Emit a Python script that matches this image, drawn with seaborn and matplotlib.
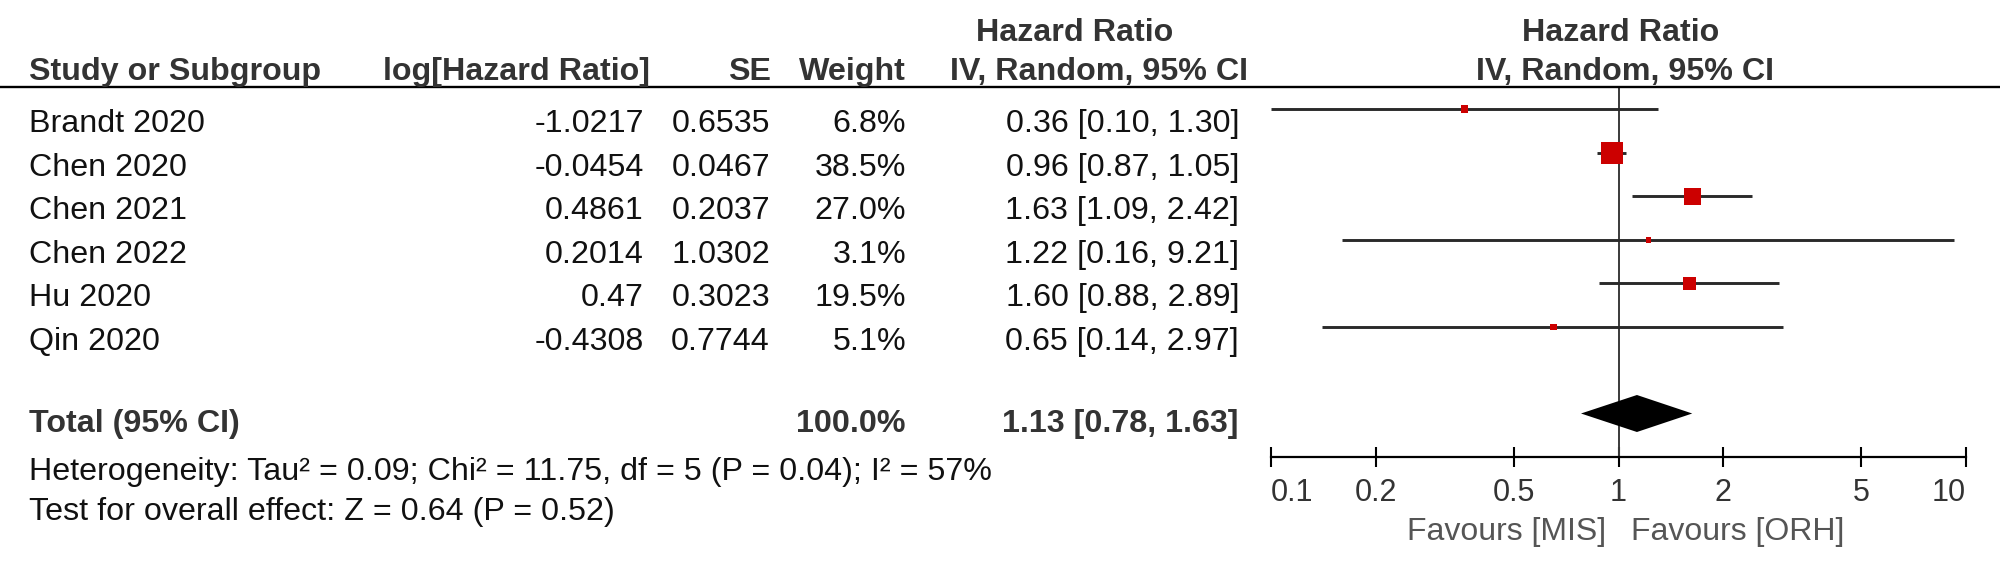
import matplotlib
matplotlib.use("Agg")
import matplotlib.pyplot as plt
from matplotlib.lines import Line2D
import seaborn as sns
import numpy as np
import pandas as pd

# ---------------- data ----------------
studies = ["Brandt 2020", "Chen 2020", "Chen 2021", "Chen 2022", "Hu 2020", "Qin 2020"]
log_hr = [-1.0217, -0.0454, 0.4861, 0.2014, 0.47, -0.4308]
se = [0.6535, 0.0467, 0.2037, 1.0302, 0.3023, 0.7744]
weights = [6.8, 38.5, 27.0, 3.1, 19.5, 5.1]
hr = [0.36, 0.96, 1.63, 1.22, 1.60, 0.65]
ci_low = [0.10, 0.87, 1.09, 0.16, 0.88, 0.14]
ci_high = [1.30, 1.05, 2.42, 9.21, 2.89, 2.97]
total_label = "Total (95% CI)"
total_weight = 100.0
total_hr = 1.13
total_low = 0.78
total_high = 1.63
axis_ticks = [0.1, 0.2, 0.5, 1, 2, 5, 10]
tick_labels = ["0.1", "0.2", "0.5", "1", "2", "5", "10"]
heterogeneity = "Heterogeneity: Tau\u00b2 = 0.09; Chi\u00b2 = 11.75, df = 5 (P = 0.04); I\u00b2 = 57%"
overall_effect = "Test for overall effect: Z = 0.64 (P = 0.52)"
favours_left = "Favours [MIS]"
favours_right = "Favours [ORH]"

df = pd.DataFrame({"study": studies, "log_hr": log_hr, "se": se, "weight": weights,
                   "hr": hr, "lo": ci_low, "hi": ci_high})

# ---------------- style ----------------
sns.set_style("white")
plt.rcParams["font.family"] = ["Liberation Sans", "DejaVu Sans"]

W, H = 2000, 566
FS = 23.2
HEAD_C = "#333333"
TEXT_C = "#111111"

fig = plt.figure(figsize=(W / 100, H / 100), dpi=100)


def ftext(x, y, s, ha="left", bold=False, color=TEXT_C, size=FS):
    fig.text(x / W, 1 - y / H, s, ha=ha, va="baseline", fontsize=size,
             fontweight="bold" if bold else "normal", color=color)


# header
ftext(1075, 41, "Hazard Ratio", ha="center", bold=True, color=HEAD_C)
ftext(1621, 41, "Hazard Ratio", ha="center", bold=True, color=HEAD_C)
ftext(29, 80, "Study or Subgroup", bold=True, color=HEAD_C)
ftext(650, 80, "log[Hazard Ratio]", ha="right", bold=True, color=HEAD_C)
ftext(771, 80, "SE", ha="right", bold=True, color=HEAD_C)
ftext(906, 80, "Weight", ha="right", bold=True, color=HEAD_C)
ftext(1099, 80, "IV, Random, 95% CI", ha="center", bold=True, color=HEAD_C)
ftext(1625, 80, "IV, Random, 95% CI", ha="center", bold=True, color=HEAD_C)

fig.add_artist(Line2D([0, 1], [1 - 87 / H] * 2, transform=fig.transFigure,
                      color="black", lw=1.7))

# study rows
row0, step = 132, 43.6
for i, r in df.iterrows():
    yb = row0 + i * step
    ftext(29, yb, r["study"])
    ftext(644, yb, str(r["log_hr"]), ha="right")
    ftext(770, yb, f"{r['se']:.4f}", ha="right")
    ftext(906, yb, f"{r['weight']:.1f}%", ha="right")
    ftext(1239, yb, f"{r['hr']:.2f} [{r['lo']:.2f}, {r['hi']:.2f}]", ha="right")

# total row
ftext(29, 432, total_label, bold=True, color=HEAD_C)
ftext(906, 432, f"{total_weight:.1f}%", ha="right", bold=True, color=HEAD_C)
ftext(1239, 432, f"{total_hr:.2f} [{total_low:.2f}, {total_high:.2f}]", ha="right",
      bold=True, color=HEAD_C)
ftext(29, 480, heterogeneity)
ftext(29, 520, overall_effect)

# ---------------- forest axes ----------------
ax_left, ax_right = 1271, 1966
ax_top, ax_bot = 87, 457
ax = fig.add_axes([ax_left / W, 1 - ax_bot / H, (ax_right - ax_left) / W, (ax_bot - ax_top) / H])
ax.set_xscale("log")
ax.set_xlim(0.1, 10)
ax.set_ylim(ax_bot, ax_top)
ax.patch.set_alpha(0)

marker_y = [109 + i * step for i in range(len(studies))]
df["y"] = marker_y

ax.axvline(1, color="#3a3a3a", lw=1.4, zorder=1)
ax.hlines(df["y"], df["lo"], df["hi"], color="#2a2a2a", lw=2.1, zorder=2)
side_px = 4.5 + 0.45 * df["weight"].to_numpy()
sns.scatterplot(data=df, x="hr", y="y", marker="s", s=(side_px * 0.72) ** 2,
                color="#CC0000", linewidth=0, ax=ax, zorder=3, legend=False)

yc, hh = 413.5, 18.5
ax.fill([total_low, total_hr, total_high, total_hr], [yc, yc - hh, yc, yc + hh],
        color="black", lw=0, zorder=3)

for s in ["top", "left", "right"]:
    ax.spines[s].set_visible(False)
ax.spines["bottom"].set_linewidth(1.6)
ax.spines["bottom"].set_color("black")
ax.set_yticks([])
ax.set_xticks(axis_ticks)
ax.set_xticklabels(tick_labels)
ax.xaxis.set_minor_locator(matplotlib.ticker.NullLocator())
ax.tick_params(axis="x", direction="inout", length=14.4, width=1.5, color="black",
               labelsize=22, labelcolor="#333333", pad=8, bottom=True)
xt = ax.get_xticklabels()
xt[0].set_horizontalalignment("left")
xt[-1].set_horizontalalignment("right")
ax.set_xlabel("")
ax.set_ylabel("")

ftext(1606, 540, favours_left, ha="right", color="#555555", size=23)
ftext(1631, 540, favours_right, ha="left", color="#555555", size=23)

fig.savefig("out.png", dpi=100)
